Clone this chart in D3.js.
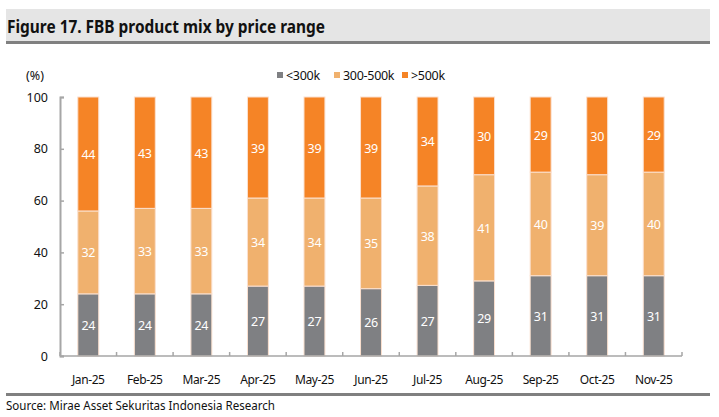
<!DOCTYPE html>
<html>
<head>
<meta charset="utf-8">
<script src="https://cdn.jsdelivr.net/npm/d3@7"></script>
<style>
  body {margin: 0; background: #fff;}
  svg {font-family: "Noto Sans", "Open Sans", sans-serif;}
</style>
</head>
<body>
<svg id="chart" width="719" height="417"></svg>
<script>
const months = ["Jan-25", "Feb-25", "Mar-25", "Apr-25", "May-25", "Jun-25", "Jul-25", "Aug-25", "Sep-25", "Oct-25", "Nov-25"]
const below300k = [24, 24, 24, 27, 27, 26, 27, 29, 31, 31, 31]
const mid300to500k = [32, 33, 33, 34, 34, 35, 38, 41, 40, 39, 40]
const above500k = [44, 43, 43, 39, 39, 39, 34, 30, 29, 30, 29]
const seriesNames = ["<300k", "300-500k", ">500k"]
const colors = ["#7f8083", "#f0b16e", "#f58426"]
const yTicks = [0, 20, 40, 60, 80, 100]

const svg = d3.select("#chart")

// title band
svg.append("rect").attr("x", 6).attr("y", 9).attr("width", 704).attr("height", 32).attr("fill", "#e5e5e5")
svg.append("rect").attr("x", 6).attr("y", 41).attr("width", 704).attr("height", 3).attr("fill", "#808080")
svg.append("text").attr("x", 7).attr("y", 33)
    .style("font-size", "17px").style("font-weight", "bold").attr("fill", "#111")
    .attr("textLength", 318).attr("lengthAdjust", "spacingAndGlyphs")
    .text("Figure 17. FBB product mix by price range")

// source line
svg.append("rect").attr("x", 6).attr("y", 393).attr("width", 704).attr("height", 3).attr("fill", "#808080")
svg.append("text").attr("x", 6).attr("y", 410)
    .style("font-size", "12.5px").attr("fill", "#111")
    .attr("textLength", 269).attr("lengthAdjust", "spacingAndGlyphs")
    .text("Source: Mirae Asset Sekuritas Indonesia Research")

const margin = {top: 97, left: 60, right: 37, bottom: 61}
const width = 719 - margin.left - margin.right
const height = 417 - margin.top - margin.bottom

const rows = months.map((m, i) => ({month: m, "<300k": below300k[i], "300-500k": mid300to500k[i], ">500k": above500k[i]}))
const stacked = d3.stack().keys(seriesNames).offset(d3.stackOffsetExpand)(rows)

const x = d3.scaleBand().domain(months).range([0, width]).paddingInner(0.63).paddingOuter(0.315)
const y = d3.scaleLinear().domain([0, 100]).range([height, 0])

const g = svg.append("g").attr("transform", "translate(" + margin.left + "," + margin.top + ")")

stacked.forEach((layer, k) => {
    g.append("g").selectAll("rect")
        .data(layer)
        .enter()
        .append("rect")
        .attr("x", d => x(d.data.month))
        .attr("width", x.bandwidth())
        .attr("y", d => y(d[1] * 100))
        .attr("height", d => y(d[0] * 100) - y(d[1] * 100))
        .attr("fill", colors[k])
        .attr("stroke", "#fbe0cf")
        .attr("stroke-width", 1)

    g.append("g").selectAll("text")
        .data(layer)
        .enter()
        .append("text")
        .attr("x", d => x(d.data.month) + x.bandwidth() / 2)
        .attr("y", d => (y(d[0] * 100) + y(d[1] * 100)) / 2 + 5)
        .attr("text-anchor", "middle")
        .attr("fill", "#fff")
        .style("font-size", "12.5px")
        .style("letter-spacing", "-0.3px")
        .text(d => d.data[seriesNames[k]])
})

// Y axis
const yAxis = g.append("g")
    .call(d3.axisLeft(y).tickValues(yTicks).tickSize(-4).tickPadding(12))
yAxis.select(".domain").attr("stroke", "#a6a6a6").attr("stroke-width", 2)
yAxis.selectAll(".tick line").attr("stroke", "#a6a6a6").attr("stroke-width", 1.5)
yAxis.selectAll("text").style("font-size", "12.5px").attr("fill", "#111").attr("font-family", "Noto Sans")

// X axis with inward ticks at band boundaries
g.append("line").attr("x1", 0).attr("x2", width).attr("y1", height).attr("y2", height)
    .attr("stroke", "#a6a6a6").attr("stroke-width", 1.5)
const step = x.step()
g.append("g").selectAll("line")
    .data(d3.range(months.length + 1))
    .enter()
    .append("line")
    .attr("x1", i => x(months[0]) - x.paddingOuter() * step + i * step)
    .attr("x2", i => x(months[0]) - x.paddingOuter() * step + i * step)
    .attr("y1", height)
    .attr("y2", height - 4)
    .attr("stroke", "#a6a6a6").attr("stroke-width", 1.5)
g.append("g").selectAll("text")
    .data(months)
    .enter()
    .append("text")
    .attr("x", d => x(d) + x.bandwidth() / 2)
    .attr("y", height + 28)
    .attr("text-anchor", "middle")
    .style("font-size", "12px")
    .style("letter-spacing", "-0.4px")
    .attr("fill", "#111")
    .text(d => d)

svg.append("text").attr("x", 26).attr("y", 80)
    .style("font-size", "12.5px").attr("fill", "#111").text("(%)")

// legend
const legendX = [277, 334, 402]
seriesNames.forEach((name, k) => {
    svg.append("rect").attr("x", legendX[k]).attr("y", 72).attr("width", 6).attr("height", 6).attr("fill", colors[k])
    svg.append("text").attr("x", legendX[k] + 9).attr("y", 80)
        .style("font-size", "12.5px").style("letter-spacing", "-0.3px").attr("fill", "#111").text(name)
})
</script>
</body>
</html>
